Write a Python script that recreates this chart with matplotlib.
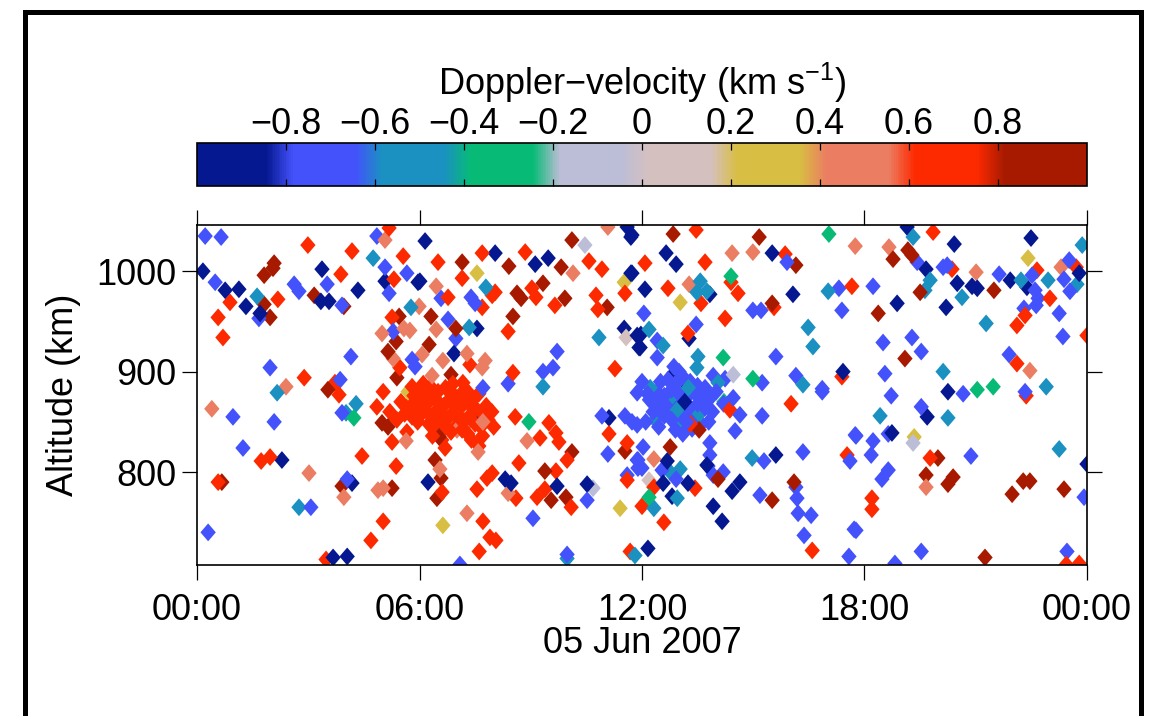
import numpy as np
import matplotlib
matplotlib.use("Agg")
import matplotlib.pyplot as plt
from matplotlib.colors import LinearSegmentedColormap
from matplotlib.patches import Rectangle

plt.rcParams['font.family'] = ['Liberation Sans', 'DejaVu Sans']
plt.rcParams['mathtext.fontset'] = 'custom'
plt.rcParams['mathtext.rm'] = 'Liberation Sans'
plt.rcParams['mathtext.it'] = 'Liberation Sans:italic'
FS = 26

# colour bands of the Doppler-velocity scale (-1 .. 1 km/s, 10 bands)
band_colors = ['#051890', '#4452fc', '#1a91c1', '#07bb76', '#bcbdd6',
               '#d5c0c0', '#d8be42', '#eb7d62', '#fd2a00', '#a81a00']
band_velocity = [-0.9, -0.7, -0.5, -0.3, -0.1, 0.1, 0.3, 0.5, 0.7, 0.9]

# (hour of day, altitude km), one list per colour band
navy = [(0.16, 1000), (0.76, 981), (1.13, 982), (1.32, 965), (1.70, 958), (3.37, 1002),
        (3.34, 970), (3.56, 970), (4.34, 981), (5.07, 990), (5.96, 989), (2.29, 812),
        (3.67, 715), (4.05, 716), (4.18, 789), (6.15, 1030), (8.04, 1018), (9.12, 1007),
        (9.47, 1013), (11.60, 1044), (11.70, 1034), (11.70, 998), (6.01, 990), (7.55, 943),
        (6.93, 918), (11.52, 943), (11.87, 936), (11.95, 924), (7.50, 850), (6.23, 790),
        (9.71, 786), (8.31, 793), (8.47, 789), (10.52, 788), (11.11, 854), (11.73, 1036),
        (12.65, 1018), (12.92, 1007), (11.73, 998), (12.08, 982), (13.83, 977), (15.51, 1018),
        (16.07, 977), (13.27, 933), (11.97, 937), (11.92, 924), (13.24, 885), (17.42, 900),
        (12.68, 811), (12.57, 789), (12.81, 776), (13.24, 789), (13.75, 807), (14.64, 790),
        (14.43, 781), (13.92, 766), (14.16, 751), (12.16, 724), (15.61, 817), (19.15, 1044),
        (19.66, 1002), (20.42, 1027), (20.50, 988), (20.90, 985), (21.04, 983), (21.93, 991),
        (20.20, 964), (18.88, 968), (22.49, 1033), (22.38, 984), (23.79, 998), (20.25, 880),
        (19.69, 855), (18.74, 839), (24.0, 808), (13.15, 870), (12.85, 898)]
blue = [(0.22, 1035), (0.65, 1034), (0.49, 989), (1.67, 953), (2.62, 987), (2.75, 980),
        (3.51, 987), (3.91, 966), (4.85, 1035), (5.07, 1004), (5.18, 978), (5.66, 998),
        (5.29, 940), (5.80, 912), (4.15, 915), (1.97, 904), (3.86, 892), (0.97, 855),
        (2.08, 850), (1.24, 824), (3.07, 765), (0.30, 740), (3.91, 859), (4.05, 793),
        (6.58, 973), (7.39, 974), (7.50, 968), (6.77, 952), (6.98, 933), (5.88, 905),
        (7.71, 884), (8.39, 888), (9.71, 920), (9.33, 900), (9.60, 904), (11.87, 879),
        (9.06, 754), (7.09, 708), (9.98, 718), (10.52, 772), (10.92, 856), (11.08, 818),
        (11.54, 856), (11.73, 850), (11.60, 797), (11.87, 847), (11.87, 812), (11.89, 804),
        (15.91, 1009), (14.99, 961), (15.21, 961), (17.31, 983), (17.39, 961), (12.05, 958),
        (13.46, 947), (12.41, 931), (12.41, 914), (12.86, 905), (15.61, 915), (13.92, 896),
        (14.24, 893), (15.24, 889), (16.15, 896), (16.86, 883), (14.46, 874), (14.64, 857),
        (14.51, 841), (15.24, 856), (16.86, 880), (12.03, 825), (11.89, 812), (12.0, 804),
        (12.54, 802), (12.92, 793), (13.83, 829), (13.83, 817), (13.78, 806), (13.92, 797),
        (14.19, 800), (15.29, 811), (16.34, 820), (15.18, 777), (16.15, 785), (16.18, 774),
        (16.21, 759), (16.56, 757), (16.37, 737), (17.61, 811), (17.75, 837), (17.72, 743),
        (17.58, 716), (19.42, 1009), (20.12, 1004), (20.23, 1006), (21.63, 997), (18.23, 985),
        (22.52, 996), (22.60, 981), (22.68, 973), (22.63, 966), (22.30, 963), (23.25, 958),
        (23.52, 1011), (23.38, 992), (23.54, 980), (23.35, 935), (18.50, 929), (19.28, 934),
        (19.53, 920), (18.55, 898), (21.90, 917), (20.66, 878), (22.33, 880), (18.72, 876),
        (19.53, 865), (17.77, 836), (18.23, 831), (18.18, 817), (18.64, 838), (20.87, 816),
        (18.64, 802), (18.47, 793), (17.77, 742), (19.53, 721), (18.82, 709), (23.92, 775),
        (23.46, 721),
        # dense group around 13 UT
        (12.4, 880), (12.6, 876), (12.8, 882), (13.0, 878), (13.2, 874), (13.4, 880),
        (13.6, 876), (13.8, 872), (12.5, 868), (12.7, 864), (12.9, 870), (13.1, 866),
        (13.3, 862), (13.5, 868), (13.7, 864), (13.9, 860), (12.6, 856), (12.8, 852),
        (13.0, 858), (13.2, 850), (13.4, 855), (13.6, 848), (12.3, 860), (12.2, 872),
        (12.7, 892), (12.9, 888), (13.1, 895), (13.3, 890), (13.5, 886), (13.0, 900),
        (12.5, 890), (13.7, 884), (12.9, 842), (13.1, 838), (12.45, 845), (13.35, 843),
        (14.0, 880), (14.2, 868), (12.1, 850), (13.8, 850), (12.0, 890), (12.15, 878)]
teal = [(1.62, 975), (4.75, 1013), (5.77, 964), (2.16, 879), (2.75, 765), (4.29, 868),
        (4.02, 859), (7.79, 984), (7.34, 944), (9.33, 885), (10.84, 934), (9.98, 714),
        (11.81, 717), (13.57, 990), (13.75, 980), (13.48, 979), (12.19, 942), (12.57, 926),
        (13.51, 915), (13.48, 904), (16.48, 944), (16.61, 925), (14.05, 889), (16.34, 887),
        (12.22, 884), (17.02, 980), (12.76, 800), (13.03, 803), (12.32, 764), (12.95, 774),
        (14.97, 814), (19.31, 1034), (19.77, 991), (19.63, 981), (20.63, 974), (22.22, 991),
        (22.95, 991), (23.73, 987), (23.87, 1026), (21.28, 948), (20.12, 900), (22.90, 885),
        (20.25, 854), (18.42, 856), (23.25, 823),
        (12.75, 873), (13.25, 884), (13.55, 858), (12.35, 852), (13.05, 846), (12.95, 862)]
green = [(4.23, 854), (8.95, 850), (17.04, 1037), (14.40, 995), (14.19, 914), (14.99, 893),
         (14.21, 870), (12.19, 775), (21.04, 882), (21.47, 885)]
lavender = [(10.46, 1026), (10.68, 784), (14.46, 897), (19.31, 829)]
pinkgrey = [(11.57, 934), (12.19, 792)]
yellow = [(5.69, 880), (7.55, 998), (11.52, 989), (6.63, 747), (11.41, 764), (13.03, 969),
          (22.41, 1013), (19.34, 835)]
salmon = [(5.07, 1031), (4.99, 938), (5.58, 943), (5.74, 941), (5.29, 913), (2.40, 885),
          (0.40, 863), (3.02, 799), (3.96, 775), (4.88, 782), (5.02, 784), (5.64, 831),
          (10.14, 998), (11.08, 1044), (6.45, 985), (6.45, 942), (5.99, 965), (6.07, 917),
          (7.28, 918), (6.63, 911), (7.69, 904), (7.77, 911), (6.34, 896), (7.01, 842),
          (7.20, 845), (7.58, 820), (7.71, 850), (8.90, 831), (6.55, 803), (8.39, 779),
          (7.28, 759), (14.43, 1018), (14.99, 1019), (17.75, 1025), (13.27, 987), (12.32, 813),
          (18.66, 1024), (21.01, 999), (23.30, 1004), (22.46, 901), (19.66, 785)]
red = [(0.89, 969), (0.57, 954), (0.70, 934), (2.18, 972), (2.99, 1026), (3.88, 997),
       (4.18, 1020), (5.18, 1043), (5.56, 1015), (5.31, 992), (5.26, 954), (5.47, 904),
       (5.80, 885), (2.89, 894), (3.72, 889), (3.83, 877), (5.02, 880), (1.73, 811),
       (1.97, 815), (0.57, 790), (3.48, 713), (4.45, 816), (5.37, 806), (5.02, 751),
       (4.69, 732), (4.85, 865), (5.20, 860), (5.39, 852), (5.80, 855), (5.26, 830),
       (5.66, 840), (6.50, 1009), (7.15, 993), (7.69, 1018), (8.85, 1019), (10.57, 1010),
       (10.92, 1002), (11.54, 978), (6.77, 974), (7.69, 964), (8.04, 979), (7.96, 976),
       (9.03, 983), (9.14, 974), (9.65, 966), (10.76, 976), (10.81, 962), (8.39, 940),
       (7.36, 907), (7.17, 889), (8.52, 899), (11.27, 903), (6.69, 824), (6.61, 780),
       (8.58, 855), (9.25, 834), (9.49, 849), (9.68, 839), (9.76, 830), (9.98, 812),
       (8.68, 809), (9.68, 801), (9.38, 783), (9.17, 775), (10.09, 765), (7.55, 783),
       (7.82, 794), (7.96, 799), (8.60, 774), (7.71, 751), (7.90, 735), (8.06, 732),
       (7.61, 721), (11.68, 721), (11.11, 838), (11.60, 829), (11.60, 792), (13.46, 1041),
       (12.08, 1008), (12.70, 983), (13.70, 1009), (15.86, 1017), (13.59, 968), (14.40, 989),
       (14.59, 978), (14.24, 953), (15.56, 964), (17.66, 985), (13.24, 938), (17.39, 895),
       (14.37, 862), (16.02, 868), (13.30, 848), (12.32, 785), (12.0, 766), (13.43, 784),
       (12.59, 750), (16.59, 722), (17.53, 817), (19.85, 1039), (20.36, 1002), (22.65, 1001),
       (22.33, 956), (22.11, 946), (23.00, 973), (23.71, 1004), (24.0, 936), (22.11, 908),
       (22.36, 876), (19.77, 814), (18.20, 774), (18.20, 763), (23.44, 708), (23.79, 709),
       # dense group around 07 UT
       (6.0, 872), (6.2, 868), (6.35, 875), (6.5, 870), (6.65, 866), (6.8, 872),
       (6.95, 868), (7.1, 864), (7.25, 870), (7.4, 866), (7.55, 862), (7.7, 858),
       (6.1, 860), (6.3, 856), (6.45, 861), (6.6, 857), (6.75, 853), (6.9, 859),
       (7.05, 855), (7.2, 851), (7.35, 856), (7.5, 848), (6.25, 848), (6.4, 844),
       (6.55, 850), (6.7, 845), (6.85, 840), (7.0, 846), (7.15, 842), (7.3, 838),
       (6.5, 880), (6.7, 884), (6.9, 878), (7.1, 877), (6.05, 882), (5.95, 850),
       (6.35, 836), (6.6, 832), (7.45, 873), (7.8, 866), (7.65, 845), (6.15, 876),
       (7.85, 852), (7.4, 832), (7.7, 836), (7.6, 826), (5.5, 870), (5.7, 866),
       (5.85, 876), (5.6, 858), (5.9, 862), (6.1, 888), (6.3, 885), (6.9, 888),
       (7.3, 880), (7.6, 878), (7.95, 860), (8.0, 845)]
darkred = [(1.81, 967), (1.97, 954), (1.81, 996), (2.05, 1003), (2.08, 1008), (3.16, 976),
           (3.96, 965), (5.45, 955), (5.37, 930), (5.15, 920), (5.39, 894), (3.53, 882),
           (0.67, 790), (4.99, 849), (5.15, 845), (3.91, 786), (5.26, 784), (7.15, 1009),
           (8.41, 1005), (9.82, 1004), (10.11, 1031), (8.63, 978), (8.74, 973), (9.33, 988),
           (9.92, 973), (11.06, 964), (8.52, 955), (6.98, 943), (6.31, 955), (6.26, 927),
           (6.85, 897), (6.53, 835), (6.42, 812), (6.58, 794), (6.47, 774), (10.11, 820),
           (9.38, 801), (9.55, 772), (9.95, 775), (11.54, 821), (12.84, 1037), (15.16, 1034),
           (16.15, 1006), (15.51, 968), (13.54, 842), (12.76, 825), (14.05, 793), (15.51, 772),
           (16.10, 790), (19.17, 1021), (19.28, 1016), (18.77, 1012), (19.50, 979), (21.49, 981),
           (18.37, 958), (19.09, 913), (19.98, 814), (19.66, 797), (20.39, 795), (20.25, 788),
           (21.25, 715), (21.98, 778), (22.28, 791), (22.46, 791), (23.38, 783)]

groups = [navy, blue, teal, green, lavender, pinkgrey, yellow, salmon, red, darkred]

hour_ticks = [0, 6, 12, 18, 24]
hour_labels = ['00:00', '06:00', '12:00', '18:00', '00:00']
alt_ticks = [800, 900, 1000]
cbar_ticks = [-0.8, -0.6, -0.4, -0.2, 0, 0.2, 0.4, 0.6, 0.8]

# colormap: flat bands with short blends just before each boundary
nodes = []
for i, c in enumerate(band_colors):
    lo = -1 + 0.2 * i
    hi = lo + 0.2
    a = lo + 0.015 if i > 0 else -1.0
    b = hi - 0.045 if i < 9 else 1.0
    nodes.append(((a + 1) / 2, c))
    nodes.append(((b + 1) / 2, c))
cmap = LinearSegmentedColormap.from_list('doppler', nodes, N=512)

t, alt, vel = [], [], []
for g, v in zip(groups, band_velocity):
    for h, a in g:
        t.append(h)
        alt.append(a)
        vel.append(v)
t = np.array(t)
alt = np.array(alt)
vel = np.array(vel)
order = np.argsort((t * 7.3 + alt * 0.37) % 1.0)

W, H = 1151, 716
fig = plt.figure(figsize=(W / 100, H / 100), dpi=100)

ax = fig.add_axes([197 / W, 1 - 565 / H, 890 / W, 340 / H])
diamond = [(0, 1), (0.86, 0), (0, -1), (-0.86, 0), (0, 1)]
sc = ax.scatter(t[order], alt[order], c=vel[order], cmap=cmap, vmin=-1, vmax=1,
                marker=diamond, s=165, linewidths=0)
ax.set_xlim(0, 24)
ax.set_ylim(707.5, 1046)
ax.set_xticks(hour_ticks)
ax.set_xticklabels(hour_labels)
ax.set_yticks(alt_ticks)
ax.tick_params(direction='out', length=10.5, width=0.9, labelsize=FS,
               top=True, right=True, pad=9.5)
ax.tick_params(axis='y', pad=4.3)
for s in ax.spines.values():
    s.set_linewidth(1.2)
ax.set_xlabel('05 Jun 2007', fontsize=FS, labelpad=-1)
ax.set_ylabel('Altitude (km)', fontsize=FS, labelpad=11)

cax = fig.add_axes([197 / W, 1 - 186 / H, 890 / W, 43 / H])
cb = fig.colorbar(sc, cax=cax, orientation='horizontal')
cb.set_ticks(cbar_ticks)
cb.set_ticklabels(['\u22120.8', '\u22120.6', '\u22120.4', '\u22120.2', '0',
                   '0.2', '0.4', '0.6', '0.8'])
cax.xaxis.set_ticks_position('both')
cax.tick_params(direction='in', length=5, width=0.9, labelsize=FS,
                labeltop=True, labelbottom=False, pad=0.5)
cax.xaxis.set_label_position('top')
cax.set_xlabel('Doppler\u2212velocity (km s$^{-1}$)', fontsize=FS, labelpad=9)
cb.outline.set_linewidth(1.2)

# heavy frame round the panel
fig.add_artist(Rectangle((25 / W, -0.05), (1140.5 - 25) / W, 0.05 + 1 - 12.5 / H,
                         transform=fig.transFigure, fill=False, lw=3.6,
                         edgecolor='black', clip_on=False))

fig.savefig('out.png', dpi=100)
